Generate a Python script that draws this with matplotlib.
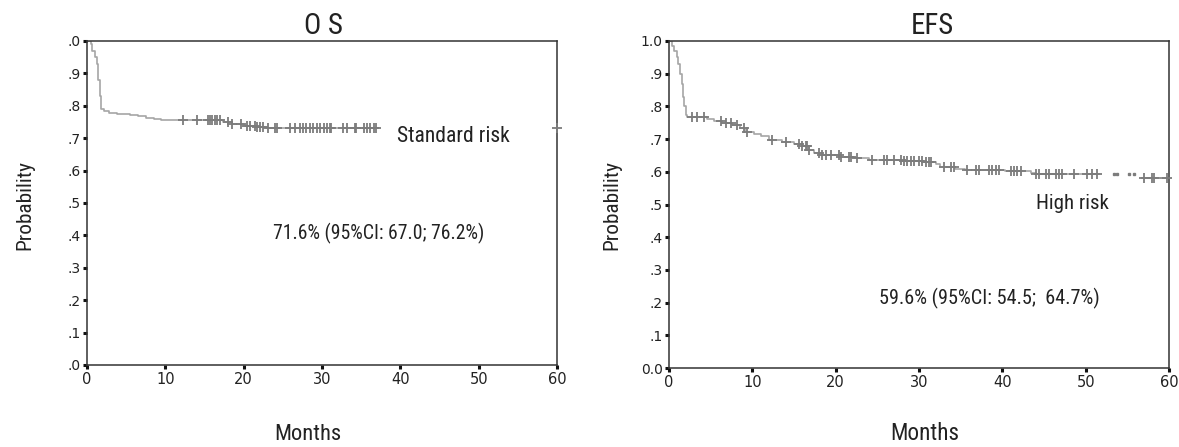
import numpy as np
import matplotlib
matplotlib.use("Agg")
import matplotlib.pyplot as plt
from matplotlib import font_manager as fm

# ---------------- data ----------------
os_times = [0, 0.45, 0.7, 1.0, 1.25, 1.45, 1.6, 1.8, 2.2, 2.8, 3.8, 5.5, 6.5, 7.5,
            8.5, 9.5, 17.3, 18.5, 20.0, 21.6, 22.8]
os_surv = [1.0, 0.99, 0.97, 0.95, 0.93, 0.88, 0.83, 0.79, 0.784, 0.779, 0.775, 0.771,
           0.767, 0.763, 0.759, 0.755, 0.749, 0.744, 0.739, 0.735, 0.731]
os_end = 37.0
os_censored = [12.3, 14.0, 15.5, 15.7, 16.0, 16.3, 16.6, 17.0, 18.0, 18.5, 19.7, 20.4,
               20.8, 21.4, 21.7, 22.1, 22.5, 23.1, 24.0, 24.2, 25.9, 26.6, 27.2, 27.6,
               28.0, 28.5, 28.9, 29.3, 29.7, 30.2, 30.6, 31.0, 31.2, 32.7, 33.2, 34.2,
               34.4, 35.3, 35.7, 36.1, 36.6, 36.9]
os_far_censored = [60.0]

efs_times = [0, 0.4, 0.6, 0.9, 1.1, 1.3, 1.5, 1.7, 1.85, 2.0, 2.2, 4.6, 5.4, 6.3, 7.6,
             8.5, 9.1, 10.2, 11.0, 12.0, 13.5, 15.0, 16.0, 16.8, 17.4, 18.2, 20.5, 22.2,
             24.0, 28.0, 30.5, 32.0, 32.5, 34.3, 35.5, 40.3, 43.4, 44.0, 56.5]
efs_surv = [1.0, 0.985, 0.97, 0.95, 0.93, 0.90, 0.87, 0.83, 0.80, 0.775, 0.767, 0.762,
            0.755, 0.748, 0.742, 0.733, 0.722, 0.716, 0.708, 0.698, 0.692, 0.686, 0.678,
            0.667, 0.656, 0.651, 0.646, 0.641, 0.637, 0.633, 0.629, 0.623, 0.616, 0.609,
            0.605, 0.601, 0.596, 0.594, 0.58]
efs_end = 60.0
efs_gap = (51.6, 56.8)
efs_censored = [2.8, 3.4, 4.2, 6.2, 6.8, 7.4, 8.2, 9.0, 9.4, 12.4, 14.0, 15.6, 16.0, 16.4,
                16.6, 16.8, 18.0, 18.4, 18.8, 19.4, 20.4, 20.6, 21.6, 21.8, 22.6, 24.4,
                25.8, 26.2, 27.0, 27.8, 28.2, 28.6, 29.0, 29.4, 30.0, 30.4, 30.8, 31.2,
                31.4, 33.0, 33.8, 34.2, 35.8, 36.8, 37.2, 38.4, 38.8, 39.2, 39.6, 41.0,
                41.4, 41.8, 42.2, 44.0, 44.4, 45.2, 45.6, 46.4, 46.8, 47.2, 48.6, 50.2,
                50.8, 51.4, 57.0, 58.0, 58.2, 59.8]
efs_dots = [53.4, 53.8, 55.2, 55.8]

x_ticks = [0, 10, 20, 30, 40, 50, 60]
y_ticks = [0.0, 0.1, 0.2, 0.3, 0.4, 0.5, 0.6, 0.7, 0.8, 0.9, 1.0]
os_ylabels = [".0", ".1", ".2", ".3", ".4", ".5", ".6", ".7", ".8", ".9", ".0"]
efs_ylabels = ["0.0", ".1", ".2", ".3", ".4", ".5", ".6", ".7", ".8", ".9", "1.0"]

# ---------------- fonts: prefer a narrow sans face ----------------
def _is_regular(f):
    w = f.weight
    ok_w = (w in ("normal", "regular", "book", "Regular")) or (isinstance(w, int) and 350 <= w <= 450)
    return ok_w and f.style == "normal"

def _is_narrow(f):
    st = f.stretch
    if isinstance(st, str):
        narrow_st = "condensed" in st
    else:
        narrow_st = st < 500
    return ("Narrow" in f.name) or ("Condensed" in f.name) or narrow_st

narrow_path = None
prefs = ["Liberation Sans Narrow", "Roboto Condensed", "Open Sans Condensed",
         "Noto Sans Condensed", "DejaVu Sans Condensed", "DejaVu Sans"]
cands = [f for f in fm.fontManager.ttflist
         if _is_regular(f) and _is_narrow(f)
         and "Mono" not in f.name and "Serif" not in f.name and "CJK" not in f.name]
for p in prefs:
    hit = [f for f in cands if f.name == p or p in f.name]
    if hit:
        narrow_path = hit[0].fname
        break
if narrow_path is None and cands:
    narrow_path = cands[0].fname
if narrow_path is None:
    narrow_path = fm.findfont(fm.FontProperties(family="Liberation Sans"))

def NP(size):
    return fm.FontProperties(fname=narrow_path, size=size)

W, H = 1179, 447
fig = plt.figure(figsize=(W / 100, H / 100), dpi=100)

def px_axes(l, t, r, b):
    return fig.add_axes([l / W, 1 - b / H, (r - l) / W, (b - t) / H])

ax1 = px_axes(87, 41, 557, 365)
ax2 = px_axes(669, 41, 1169, 368)

LINE = "#a6a6a6"
MARK = "#7c7c7c"
TXT = "#222222"

def surv_at(times, surv, t):
    i = np.searchsorted(times, t, side="right") - 1
    return np.asarray(surv)[i]

def style(ax, ylabels):
    ax.set_xlim(0, 60)
    ax.set_ylim(0, 1.0)
    for s in ax.spines.values():
        s.set_color("#333333")
        s.set_linewidth(1.1)
    ax.set_xticks(x_ticks)
    ax.set_xticklabels([str(v) for v in x_ticks], fontsize=10.5, family="DejaVu Sans",
                       color=TXT)
    ax.set_yticks(y_ticks)
    ax.set_yticklabels(ylabels, fontsize=10, family="DejaVu Sans", color=TXT)
    ax.tick_params(axis="both", direction="out", length=3, width=2.2, color="#111111")
    ax.tick_params(axis="x", pad=2)
    ax.tick_params(axis="y", pad=1.5)

# OS panel
t = np.array(os_times + [os_end])
s = np.array(os_surv + [os_surv[-1]])
ax1.step(t, s, where="post", color=LINE, lw=1.2, zorder=2)
cy = [surv_at(os_times, os_surv, c) for c in os_censored]
ax1.plot(os_censored, cy, ls="none", marker="+", ms=6.5, mew=1.3, color=MARK, zorder=3)
fy = [surv_at(os_times, os_surv, c) for c in os_far_censored]
ax1.plot(os_far_censored, fy, ls="none", marker="+", ms=6.5, mew=1.3, color=MARK,
         zorder=5, clip_on=False)
style(ax1, os_ylabels)

# EFS panel
t2 = np.array(efs_times + [efs_end])
s2 = np.array(efs_surv + [efs_surv[-1]])
m1 = t2 < efs_gap[0]
xa = np.append(t2[m1], efs_gap[0])
ya = np.append(s2[m1], surv_at(efs_times, efs_surv, efs_gap[0]))
ax2.step(xa, ya, where="post", color=LINE, lw=1.2, zorder=2)
m2 = t2 > efs_gap[1]
xb = np.insert(t2[m2], 0, efs_gap[1])
yb = np.insert(s2[m2], 0, surv_at(efs_times, efs_surv, efs_gap[1]))
ax2.step(xb, yb, where="post", color=MARK, lw=1.2, zorder=2, clip_on=False)
cy2 = [surv_at(efs_times, efs_surv, c) for c in efs_censored]
ax2.plot(efs_censored, cy2, ls="none", marker="+", ms=6.5, mew=1.3, color=MARK, zorder=3,
         clip_on=False)
dy2 = [surv_at(efs_times, efs_surv, c) for c in efs_dots]
ax2.plot(efs_dots, dy2, ls="none", marker="s", ms=1.8, color=MARK, zorder=3)
style(ax2, efs_ylabels)

# ---------------- texts, fitted to the reference widths ----------------
texts = []  # (artist, target_px, vertical, max_size)
def add_ax_text(ax, x, y, txt, size, target, ha="left"):
    a = ax.text(x, y, txt, fontproperties=NP(size), color=TXT, ha=ha, va="center")
    texts.append((a, target, False, size))

def add_fig_text(x, y, txt, size, target, rot=0):
    a = fig.text(x / W, 1 - y / H, txt, fontproperties=NP(size), color=TXT,
                 ha="center", va="center", rotation=rot)
    texts.append((a, target, rot != 0, size))

add_ax_text(ax1, 39.6, 0.704, "Standard risk", 16.5, 113)
add_ax_text(ax1, 23.7, 0.407, "71.6% (95%CI: 67.0; 76.2%)", 14.5, 211)
add_ax_text(ax2, 44.0, 0.504, "High risk", 16.5, 73)
add_ax_text(ax2, 25.2, 0.214, "59.6% (95%CI: 54.5;  64.7%)", 14.5, 221)
add_fig_text(323, 26, "O S", 19, 39)
add_fig_text(932, 26, "EFS", 19, 43)
add_fig_text(25, 205, "Probability", 17.5, 90, rot=90)
add_fig_text(612, 205, "Probability", 17.5, 90, rot=90)
add_fig_text(308, 434, "Months", 18, 67)
add_fig_text(925, 434, "Months", 18, 69)

fig.canvas.draw()
r = fig.canvas.get_renderer()
for a, target, vert, size in texts:
    bb = a.get_window_extent(renderer=r)
    cur = bb.height if vert else bb.width
    if cur > 0:
        new = size * target / cur
        a.set_fontproperties(NP(min(new, size * 1.15)))

fig.savefig("out.png", dpi=100)
